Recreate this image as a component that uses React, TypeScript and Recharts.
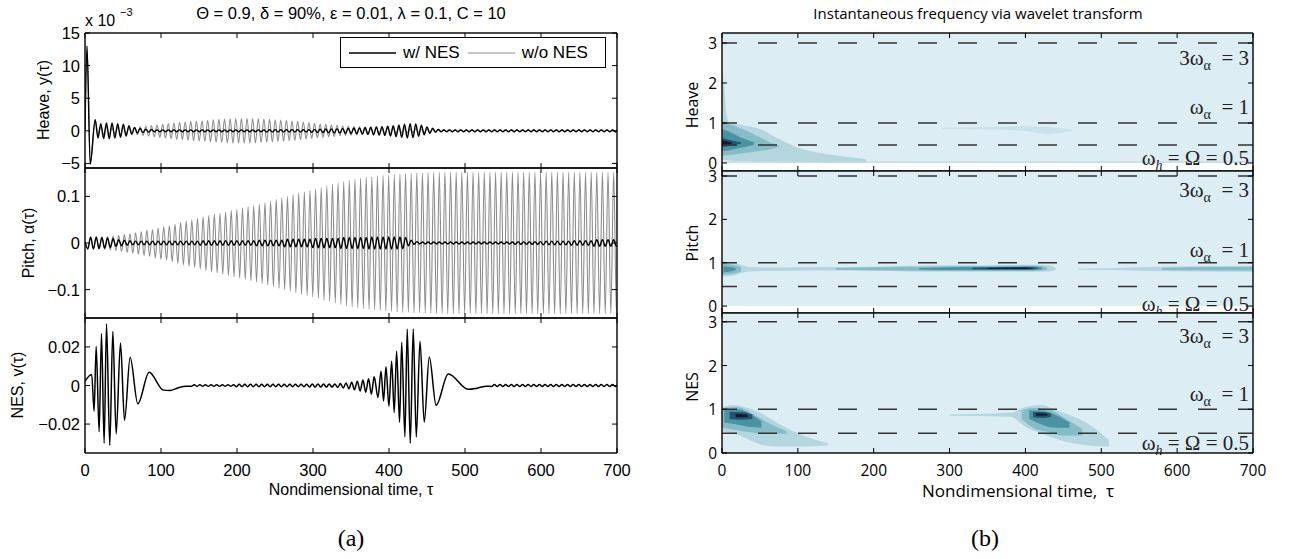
import React from "react";
import {
  LineChart,
  Line,
  ComposedChart,
  Area,
  XAxis,
  YAxis,
  ReferenceLine,
  Legend,
} from "recharts";

const W = 1289;
const H = 559;
// oscillation period (time units)
const PERIOD = 7.4;

const timeTicks = [0, 100, 200, 300, 400, 500, 600, 700];
const heaveTicks = [-5, 0, 5, 10, 15];
const pitchTicks = [-0.1, 0, 0.1];
const nesTicks = [-0.02, 0, 0.02];
const freqTicks = [0, 1, 2, 3];
const freqLines = [3, 1, 0.45];

// ---- (a) time histories ----
// heave (x 1e-3): common initial transient, then amplitude per cycle
const heaveStart = [[0, 0], [2.6, 13], [6.9, -5.1], [13.4, 1.7]];
const heaveNoNesAmp = [
  0.6, 0.55, 0.5, 0.5, 0.5, 0.5, 0.55, 0.6, 0.7, 0.8,
  0.9, 1.0, 1.1, 1.2, 1.3, 1.35, 1.45, 1.5, 1.55, 1.6,
  1.7, 1.75, 1.8, 1.85, 1.9, 1.9, 1.9, 1.9, 1.85, 1.8,
  1.75, 1.7, 1.65, 1.6, 1.5, 1.45, 1.35, 1.25, 1.15, 1.05,
  1.0, 0.9, 0.85, 0.75, 0.7, 0.65, 0.6, 0.55, 0.5, 0.45,
  0.4, 0.4, 0.35, 0.35, 0.3, 0.3, 0.3, 0.25, 0.25, 0.25,
  0.22, 0.22, 0.2, 0.2, 0.2, 0.2, 0.2, 0.2, 0.2, 0.2,
  0.2, 0.2, 0.2, 0.2, 0.2, 0.2, 0.2, 0.2, 0.2, 0.2,
  0.2, 0.2, 0.2, 0.2, 0.2, 0.2, 0.2, 0.2, 0.2, 0.2,
  0.2, 0.2, 0.2,
];
const heaveNesAmp = [
  1.1, 1.2, 1.2, 1.1, 1.0, 0.8, 0.5, 0.35, 0.25, 0.2,
  0.15, 0.15, 0.15, 0.15, 0.15, 0.15, 0.15, 0.15, 0.15, 0.15,
  0.15, 0.15, 0.15, 0.15, 0.15, 0.15, 0.15, 0.15, 0.15, 0.15,
  0.18, 0.18, 0.18, 0.18, 0.18, 0.18, 0.18, 0.18, 0.22, 0.25,
  0.28, 0.3, 0.33, 0.36, 0.4, 0.43, 0.46, 0.5, 0.55, 0.6,
  0.65, 0.7, 0.8, 0.9, 1.0, 1.1, 1.05, 0.85, 0.6, 0.4,
  0.2, 0.12, 0.12, 0.12, 0.12, 0.12, 0.12, 0.12, 0.12, 0.12,
  0.12, 0.12, 0.12, 0.12, 0.12, 0.12, 0.12, 0.12, 0.12, 0.12,
  0.12, 0.12, 0.12, 0.12, 0.12, 0.12, 0.12, 0.12, 0.12, 0.12,
  0.12, 0.12, 0.12,
];

// pitch: amplitude per cycle
const pitchNoNesAmp = [
  0.012, 0.013, 0.013, 0.014, 0.015, 0.016, 0.018, 0.02, 0.022, 0.024,
  0.027, 0.029, 0.032, 0.035, 0.037, 0.04, 0.044, 0.047, 0.05, 0.053,
  0.056, 0.059, 0.062, 0.064, 0.067, 0.07, 0.072, 0.075, 0.078, 0.081,
  0.084, 0.087, 0.09, 0.094, 0.097, 0.1, 0.104, 0.107, 0.11, 0.113,
  0.116, 0.119, 0.123, 0.126, 0.129, 0.132, 0.135, 0.137, 0.139, 0.141,
  0.142, 0.144, 0.145, 0.146, 0.147, 0.148, 0.149, 0.149, 0.15, 0.15,
  0.151, 0.151, 0.152, 0.152, 0.152, 0.152, 0.152, 0.152, 0.152, 0.152,
  0.152, 0.152, 0.152, 0.152, 0.152, 0.152, 0.152, 0.152, 0.152, 0.152,
  0.152, 0.152, 0.152, 0.152, 0.152, 0.152, 0.152, 0.152, 0.152, 0.152,
  0.152, 0.152, 0.152, 0.152, 0.152,
];
const pitchNesAmp = [
  0.013, 0.013, 0.012, 0.011, 0.009, 0.007, 0.006, 0.005, 0.004, 0.004,
  0.004, 0.004, 0.004, 0.004, 0.004, 0.004, 0.004, 0.004, 0.004, 0.004,
  0.005, 0.005, 0.005, 0.005, 0.005, 0.005, 0.005, 0.005, 0.005, 0.005,
  0.006, 0.006, 0.006, 0.006, 0.006, 0.008, 0.008, 0.008, 0.008, 0.008,
  0.01, 0.01, 0.01, 0.01, 0.01, 0.012, 0.012, 0.012, 0.012, 0.012,
  0.013, 0.013, 0.013, 0.013, 0.013, 0.013, 0.012, 0.006, 0.003, 0.002,
  0.002, 0.002, 0.002, 0.002, 0.002, 0.002, 0.002, 0.002, 0.002, 0.002,
  0.002, 0.002, 0.002, 0.002, 0.002, 0.002, 0.003, 0.003, 0.003, 0.003,
  0.003, 0.004, 0.004, 0.004, 0.004, 0.004, 0.005, 0.005, 0.005, 0.005,
  0.007, 0.007, 0.007, 0.007, 0.007,
];

// NES: extremes of the two bursts, small wiggles in between
const nesBurst1 = [
  [0, 0.0022], [8.8, 0.0057], [12, -0.0133], [14.7, 0.0203], [18.6, -0.024],
  [21.7, 0.027], [25.2, -0.03], [28.3, 0.032], [32.6, -0.031], [36.6, 0.028],
  [41, -0.025], [46.7, 0.022], [52, -0.018], [59.4, 0.0147], [69.5, -0.0095],
  [84.4, 0.0069], [103, -0.0024], [112, -0.0026], [122, -0.0013], [133, -0.0004],
];
const nesQuiet1 = [
  0.0004, 0.0004, 0.0004, 0.0004, 0.0004, 0.0004, 0.0004, 0.0004, 0.0006, 0.0006,
  0.0006, 0.0006, 0.0006, 0.0006, 0.0006, 0.0006, 0.0006, 0.0006, 0.0006, 0.0006,
  0.0006, 0.0008, 0.0008, 0.0008, 0.0008, 0.0008, 0.001, 0.0013, 0.0017, 0.0022,
  0.0028, 0.0035, 0.0045,
];
const nesBurst2 = [
  [385.5, -0.0062], [389.5, 0.0074], [392.8, -0.008], [396, 0.0097], [399.9, -0.0107],
  [403.5, 0.0126], [406.9, -0.014], [410, 0.0178], [413.9, -0.019], [416.7, 0.0224],
  [420.9, -0.0266], [424, 0.0293], [428, -0.03], [431.9, 0.0293], [435.9, -0.0267],
  [440.8, 0.023], [446.4, -0.019], [453, 0.0148], [462, -0.0102], [478, 0.006],
  [504.6, -0.002], [516, -0.0014], [528, -0.0004],
];
const nesQuiet2 = [
  0.0005, 0.0005, 0.0005, 0.0005, 0.0005, 0.0005, 0.0005, 0.0005, 0.0005, 0.0005,
  0.0005, 0.0005, 0.0005, 0.0005, 0.0005, 0.0005, 0.0005, 0.0005, 0.0005, 0.0005,
  0.0005, 0.0005, 0.0005,
];

// ---- (b) wavelet ridges: [time, low freq, high freq] per contour level ----
const hvBottom = [[0, 0, 0.05], [700, 0, 0.05]];
const hvStreak = [[290, 0.85, 0.88], [350, 0.84, 0.9], [400, 0.8, 0.92], [430, 0.72, 0.9], [450, 0.76, 0.86], [462, 0.8, 0.82]];
const hvL1 = [[0, 0.08, 2.3], [3, 0.08, 1.9], [6, 0.07, 1.2], [10, 0.06, 1.0], [20, 0.05, 0.97], [35, 0.05, 0.92], [50, 0.04, 0.85], [70, 0.04, 0.65], [100, 0.03, 0.38], [140, 0.02, 0.22], [190, 0.02, 0.1]];
const hvL2 = [[0, 0.18, 1.0], [10, 0.2, 0.97], [20, 0.22, 0.9], [35, 0.26, 0.78], [50, 0.3, 0.64], [65, 0.35, 0.5], [75, 0.4, 0.44]];
const hvL3 = [[0, 0.3, 0.85], [10, 0.32, 0.78], [20, 0.36, 0.68], [30, 0.4, 0.6], [42, 0.45, 0.52]];
const hvL4 = [[0, 0.4, 0.62], [8, 0.42, 0.59], [16, 0.45, 0.55], [25, 0.48, 0.52]];
const hvL5 = [[0, 0.45, 0.56], [7, 0.46, 0.54], [13, 0.48, 0.51]];

const ptL1a = [[0, 0.68, 1.02], [15, 0.7, 1.0], [25, 0.76, 0.95], [35, 0.8, 0.9], [60, 0.81, 0.89], [170, 0.82, 0.9], [250, 0.8, 0.93], [300, 0.79, 0.94], [400, 0.79, 0.95], [430, 0.8, 0.94], [440, 0.84, 0.88]];
const ptL1b = [[470, 0.84, 0.86], [520, 0.83, 0.88], [560, 0.81, 0.9], [620, 0.8, 0.92], [700, 0.79, 0.93]];
const ptL2a = [[0, 0.72, 0.98], [12, 0.74, 0.96], [25, 0.79, 0.9]];
const ptL2b = [[150, 0.84, 0.88], [220, 0.82, 0.9], [300, 0.81, 0.92], [410, 0.81, 0.93], [428, 0.83, 0.9]];
const ptL2c = [[580, 0.83, 0.88], [650, 0.82, 0.9], [700, 0.82, 0.9]];
const ptL3a = [[2, 0.78, 0.91], [10, 0.79, 0.9], [18, 0.83, 0.87]];
const ptL3b = [[260, 0.845, 0.875], [320, 0.83, 0.9], [410, 0.83, 0.91], [422, 0.85, 0.89]];
const ptL4 = [[330, 0.85, 0.885], [380, 0.845, 0.9], [410, 0.85, 0.895], [416, 0.86, 0.885]];
const ptL5 = [[350, 0.86, 0.88], [400, 0.855, 0.89], [410, 0.865, 0.88]];

const nsL1a = [[0, 0.5, 1.05], [15, 0.45, 1.1], [30, 0.35, 1.05], [50, 0.2, 0.92], [70, 0.15, 0.72], [100, 0.15, 0.45], [140, 0.18, 0.22]];
const nsL1b = [[300, 0.85, 0.88], [380, 0.83, 0.92], [400, 0.6, 1.05], [420, 0.45, 1.1], [445, 0.3, 0.95], [480, 0.18, 0.7], [510, 0.15, 0.3]];
const nsL2a = [[0, 0.58, 1.02], [20, 0.52, 1.05], [40, 0.47, 0.9], [60, 0.44, 0.7], [85, 0.44, 0.5]];
const nsL2b = [[395, 0.78, 0.97], [410, 0.58, 1.03], [430, 0.48, 1.0], [450, 0.4, 0.82], [475, 0.4, 0.55]];
const nsL3a = [[3, 0.7, 0.97], [20, 0.65, 1.0], [35, 0.6, 0.92], [52, 0.58, 0.72]];
const nsL3b = [[405, 0.78, 0.97], [420, 0.66, 0.97], [440, 0.58, 0.87], [458, 0.58, 0.7]];
const nsL4a = [[10, 0.78, 0.94], [25, 0.76, 0.94], [40, 0.78, 0.88]];
const nsL4b = [[410, 0.82, 0.94], [422, 0.8, 0.94], [434, 0.83, 0.9]];
const nsL5a = [[18, 0.82, 0.9], [34, 0.82, 0.88]];
const nsL5b = [[414, 0.85, 0.91], [429, 0.86, 0.9]];

const BG = "#dcedf4";
const C0 = "#c9e2ea";
const C1 = "#b3d6df";
const C2 = "#86bcc8";
const C3 = "#4a93a3";
const C4 = "#22566d";
const C5 = "#151a3b";

const SANS = "'Liberation Sans', Arial, sans-serif";
const MYR = "'Open Sans', sans-serif";
const SERIF = "'Liberation Serif', 'Times New Roman', serif";

const pts = (a: number[][]) => a.map(([t, v]) => ({ t, v }));
const cycles = (t0: number, amps: number[]) =>
  amps.flatMap((a, i) => [
    { t: t0 + i * PERIOD, v: -a },
    { t: t0 + i * PERIOD + PERIOD / 2, v: a },
  ]);
const rng = (a: number[][]) => a.map(([t, lo, hi]) => ({ t, r: [lo, hi] }));
const fmt = (v: number) => (v < 0 ? "\u2212" + Math.abs(v) : String(v));

const heaveNoNes = [...pts(heaveStart), ...cycles(17.1, heaveNoNesAmp)];
const heaveNes = [...pts(heaveStart), ...cycles(17.1, heaveNesAmp)];
const pitchNoNes = [{ t: 0, v: 0.003 }, ...cycles(3.7, pitchNoNesAmp)];
const pitchNes = [{ t: 0, v: 0.003 }, ...cycles(3.7, pitchNesAmp)];
const nesSeries = [...pts(nesBurst1), ...cycles(140, nesQuiet1), ...pts(nesBurst2), ...cycles(535, nesQuiet2)];

type Side = "bottom" | "top" | "left" | "right";
function inwardTick(side: Side, label: boolean, font: string, size: number) {
  return (props: any) => {
    const { x, y, payload } = props;
    const n = 5;
    const ln =
      side === "bottom" ? [x, y, x, y - n] :
      side === "top" ? [x, y, x, y + n] :
      side === "left" ? [x, y, x + n, y] : [x, y, x - n, y];
    let txt = null;
    if (label && side === "bottom")
      txt = <text x={x} y={y + 23} textAnchor="middle" fontFamily={font} fontSize={size} fill="#000">{fmt(payload.value)}</text>;
    if (label && side === "left")
      txt = <text x={x - 5} y={y + 6} textAnchor="end" fontFamily={font} fontSize={size} fill="#000">{fmt(payload.value)}</text>;
    return (
      <g>
        <line x1={ln[0]} y1={ln[1]} x2={ln[2]} y2={ln[3]} stroke="#000" strokeWidth={1} />
        {txt}
      </g>
    );
  };
}

const axisLine = { stroke: "#111", strokeWidth: 1.5 };
const abs: React.CSSProperties = { position: "absolute", left: 0, top: 0 };

// axes are 1px thick so Recharts draws them; margins below account for that
function axes(domain: number[], yTicks: number[], showX: boolean, font: string, size: number) {
  return [
    <XAxis key="xb" xAxisId="b" dataKey="t" type="number" domain={[0, 700]} ticks={timeTicks} allowDataOverflow height={1} tickSize={0} tickMargin={0} interval={0} axisLine={axisLine} tick={inwardTick("bottom", showX, font, size)} />,
    <XAxis key="xt" xAxisId="t" orientation="top" dataKey="t" type="number" domain={[0, 700]} ticks={timeTicks} allowDataOverflow height={1} tickSize={0} tickMargin={0} interval={0} axisLine={axisLine} tick={inwardTick("top", false, font, size)} />,
    <YAxis key="yl" yAxisId="l" type="number" domain={domain} ticks={yTicks} allowDataOverflow width={1} tickSize={0} tickMargin={0} interval={0} axisLine={axisLine} tick={inwardTick("left", true, font, size)} />,
    <YAxis key="yr" yAxisId="r" orientation="right" type="number" domain={domain} ticks={yTicks} allowDataOverflow width={1} tickSize={0} tickMargin={0} interval={0} axisLine={axisLine} tick={inwardTick("right", false, font, size)} />,
  ];
}

const legendBox = (props: any) => {
  const items = [...(props.payload || [])];
  return (
    <div style={{ width: 264, height: 29, border: "1px solid #000", background: "#fff", display: "flex", alignItems: "center", fontFamily: SANS, fontSize: 17 }}>
      {items.map((it: any, i: number) => (
        <div key={i} style={{ display: "flex", alignItems: "center", marginLeft: 8 }}>
          <svg width={47} height={4}>
            <line x1={0} x2={47} y1={2} y2={2} stroke={it.color} strokeWidth={i === 0 ? 1.6 : 1.2} />
          </svg>
          <span style={{ marginLeft: 7 }}>{it.value}</span>
        </div>
      ))}
    </div>
  );
};

type Row = { top: number; bottom: number };
const marginFor = (row: Row, left: number, right: number) => ({
  top: row.top - 1,
  bottom: H - row.bottom - 1,
  left: left - 1,
  right: W - right - 1,
});

function TimePlot(p: { row: Row; domain: number[]; ticks: number[]; showX: boolean; series: any[]; legend?: boolean }) {
  return (
    <div style={abs}>
      <LineChart width={W} height={H} margin={marginFor(p.row, 85, 617)}>
        {axes(p.domain, p.ticks, p.showX, SANS, 16.5)}
        {p.series.map((s) => (
          <Line key={s.name} name={s.name} xAxisId="b" yAxisId="l" data={s.data} dataKey="v" type="monotone" stroke={s.color} strokeWidth={s.width} dot={false} activeDot={false} isAnimationActive={false} />
        ))}
        {p.legend && (
          <Legend layout="horizontal" verticalAlign="middle" align="center" content={legendBox} wrapperStyle={{ left: 340, top: 37, width: 266, height: 31 }} />
        )}
      </LineChart>
    </div>
  );
}

const annot = (kind: number, dy: number) => (props: any) => {
  const vb = props.viewBox || {};
  const x = (vb.x || 0) + (vb.width || 0) - 4;
  const y = (vb.y || 0) + dy;
  const common = { x, y, textAnchor: "end" as const, fontFamily: SERIF, fontSize: 21, fill: "#222" };
  if (kind === 0)
    return (
      <text {...common}>
        <tspan>3ω</tspan>
        <tspan dy={5} fontSize={14}>α</tspan>
        <tspan dy={-5}>{"\u00a0 = 3"}</tspan>
      </text>
    );
  if (kind === 1)
    return (
      <text {...common}>
        <tspan>ω</tspan>
        <tspan dy={5} fontSize={14}>α</tspan>
        <tspan dy={-5}>{"\u00a0 = 1"}</tspan>
      </text>
    );
  return (
    <text {...common}>
      <tspan>ω</tspan>
      <tspan dy={5} fontSize={14} fontStyle="italic">h</tspan>
      <tspan dy={-5}>{" = Ω = 0.5"}</tspan>
    </text>
  );
};

function SpecPlot(p: { row: Row; domain: number[]; showX: boolean; layers: { c: string; d: number[][] }[]; dys: number[] }) {
  const top = p.domain[1];
  return (
    <div style={abs}>
      <ComposedChart width={W} height={H} margin={marginFor(p.row, 722, 1253)}>
        {axes(p.domain, freqTicks, p.showX, MYR, 15.5)}
        <Area xAxisId="b" yAxisId="l" data={rng([[0, 0, top], [700, 0, top]])} dataKey="r" type="linear" stroke="none" fill={BG} fillOpacity={1} isAnimationActive={false} />
        {p.layers.map((l, i) => (
          <Area key={i} xAxisId="b" yAxisId="l" data={rng(l.d)} dataKey="r" type="monotone" stroke="none" fill={l.c} fillOpacity={1} isAnimationActive={false} />
        ))}
        {freqLines.map((f) => (
          <Line key={f} xAxisId="b" yAxisId="l" data={[{ t: 0, v: f }, { t: 700, v: f }]} dataKey="v" stroke="#333" strokeWidth={1.6} strokeDasharray="19 21" strokeDashoffset={4} dot={false} activeDot={false} isAnimationActive={false} />
        ))}
        {freqLines.map((f, i) => (
          <ReferenceLine key={"a" + f} xAxisId="b" yAxisId="l" y={f} stroke="none" label={{ content: annot(i, p.dys[i]) } as any} />
        ))}
      </ComposedChart>
    </div>
  );
}

export default function App() {
  return (
    <div style={{ position: "relative", width: W, height: H, background: "#fff", overflow: "hidden" }}>
      <style>{"body{margin:0}"}</style>
      <TimePlot
        row={{ top: 33, bottom: 168 }}
        domain={[-5.7, 15]}
        ticks={heaveTicks}
        showX={false}
        legend
        series={[
          { name: "w/o NES", data: heaveNoNes, color: "#8c8c8c", width: 1.1 },
          { name: "w/ NES", data: heaveNes, color: "#000", width: 1.4 },
        ]}
      />
      <TimePlot
        row={{ top: 168, bottom: 318 }}
        domain={[-0.161, 0.161]}
        ticks={pitchTicks}
        showX={false}
        series={[
          { name: "w/o NES", data: pitchNoNes, color: "#8c8c8c", width: 1.1 },
          { name: "w/ NES", data: pitchNes, color: "#000", width: 1.4 },
        ]}
      />
      <TimePlot
        row={{ top: 318, bottom: 453 }}
        domain={[-0.035, 0.035]}
        ticks={nesTicks}
        showX
        series={[{ name: "NES", data: nesSeries, color: "#000", width: 1.5 }]}
      />
      <SpecPlot
        row={{ top: 33, bottom: 171 }}
        domain={[-0.2, 3.25]}
        showX={false}
        dys={[22, -9, 20]}
        layers={[
          { c: C0, d: hvBottom }, { c: C0, d: hvStreak }, { c: C1, d: hvL1 },
          { c: C2, d: hvL2 }, { c: C3, d: hvL3 }, { c: C4, d: hvL4 }, { c: C5, d: hvL5 },
        ]}
      />
      <SpecPlot
        row={{ top: 171, bottom: 313 }}
        domain={[-0.16, 3.115]}
        showX={false}
        dys={[21, -6, 24]}
        layers={[
          { c: C1, d: ptL1a }, { c: C1, d: ptL1b }, { c: C2, d: ptL2a }, { c: C2, d: ptL2b },
          { c: C2, d: ptL2c }, { c: C3, d: ptL3a }, { c: C3, d: ptL3b }, { c: C4, d: ptL4 }, { c: C5, d: ptL5 },
        ]}
      />
      <SpecPlot
        row={{ top: 313, bottom: 453 }}
        domain={[0, 3.2]}
        showX
        dys={[21, -8, 17]}
        layers={[
          { c: C1, d: nsL1a }, { c: C1, d: nsL1b }, { c: C2, d: nsL2a }, { c: C2, d: nsL2b },
          { c: C3, d: nsL3a }, { c: C3, d: nsL3b }, { c: C4, d: nsL4a }, { c: C4, d: nsL4b },
          { c: C5, d: nsL5a }, { c: C5, d: nsL5b },
        ]}
      />
      <svg width={W} height={H} style={{ ...abs, pointerEvents: "none" }}>
        <g fontFamily={SANS} fill="#000">
          <text x={351} y={19} textAnchor="middle" fontSize={16.5}>Θ = 0.9, δ = 90%, ε = 0.01, λ = 0.1, C = 10</text>
          <text x={85} y={26} fontSize={16}>x 10</text>
          <text x={120} y={16} fontSize={11}>−3</text>
          <text x={43} y={100} fontSize={16} textAnchor="middle" dominantBaseline="central" transform="rotate(-90 43 100)">Heave, y(τ)</text>
          <text x={28} y={243} fontSize={16} textAnchor="middle" dominantBaseline="central" transform="rotate(-90 28 243)">Pitch, α(τ)</text>
          <text x={17} y={385} fontSize={16} textAnchor="middle" dominantBaseline="central" transform="rotate(-90 17 385)">NES, v(τ)</text>
          <text x={351} y={495} fontSize={16} textAnchor="middle">Nondimensional time, τ</text>
        </g>
        <g fontFamily={MYR} fill="#000">
          <text x={978} y={19} textAnchor="middle" fontSize={15}>Instantaneous frequency via wavelet transform</text>
          <text x={692} y={105} fontSize={16} textAnchor="middle" dominantBaseline="central" transform="rotate(-90 692 105)">Heave</text>
          <text x={692} y={243} fontSize={16} textAnchor="middle" dominantBaseline="central" transform="rotate(-90 692 243)">Pitch</text>
          <text x={692} y={387} fontSize={16} textAnchor="middle" dominantBaseline="central" transform="rotate(-90 692 387)">NES</text>
          <text x={1018} y={497} fontSize={17} textAnchor="middle">{"Nondimensional time,\u00a0 τ"}</text>
        </g>
        <g fontFamily={SERIF} fontSize={24} fill="#000">
          <text x={351} y={546} textAnchor="middle">(a)</text>
          <text x={985} y={546} textAnchor="middle">(b)</text>
        </g>
      </svg>
    </div>
  );
}
